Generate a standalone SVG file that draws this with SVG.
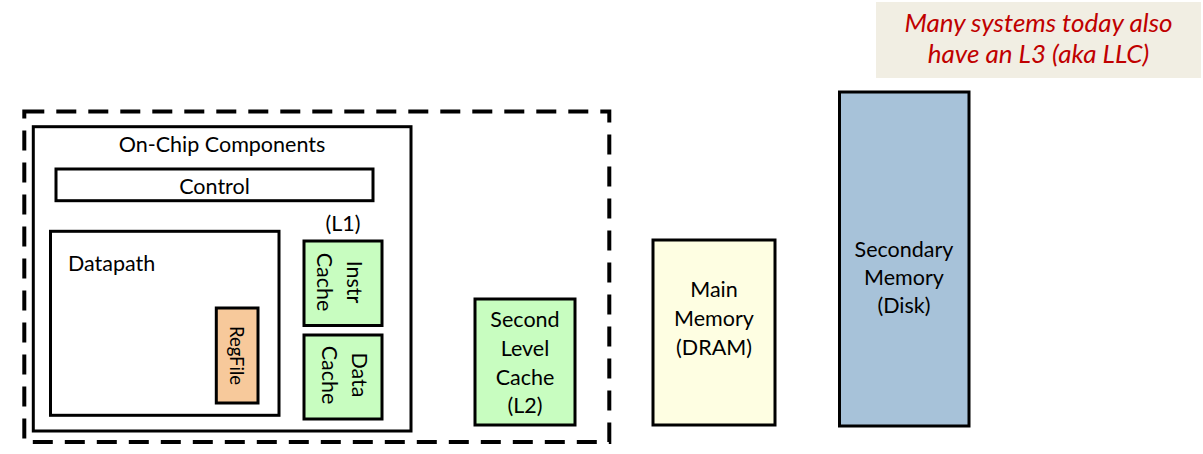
<svg xmlns="http://www.w3.org/2000/svg" width="1203" height="454" viewBox="0 0 1203 454">
<style>
  .box { stroke: #000; stroke-width: 3; }
  .t { font-family: Lato, "Liberation Sans", sans-serif; font-size: 21.5px; fill: #000; }
  .c { text-anchor: middle; }
  .note { font-family: Lato, "Liberation Sans", sans-serif; font-size: 26px; font-style: italic; fill: #C00000; text-anchor: middle; }
</style>
<rect width="1203" height="454" fill="#fff"/>
<g id="note">
  <rect x="876" y="2" width="325" height="76" fill="#F1EEE3"/>
  <text class="note" x="1038.5" y="32">Many systems today also</text>
  <text class="note" x="1038.5" y="63">have an L3 (aka LLC)</text>
</g>
<g id="chip-boundary">
  <rect x="24.3" y="111.5" width="585" height="330.5" fill="none" stroke="#000" stroke-width="4" stroke-dasharray="20 12"/>
</g>
<g id="on-chip">
  <rect class="box" x="33.3" y="126.7" width="377.7" height="304.3" fill="#fff"/>
  <text class="t c" x="222" y="152">On-Chip Components</text>
</g>
<g id="control">
  <rect class="box" x="56" y="169" width="317" height="31.7" fill="#fff"/>
  <text class="t c" x="214.5" y="194">Control</text>
</g>
<g id="datapath">
  <rect class="box" x="50.5" y="231.3" width="228.5" height="184" fill="#fff"/>
  <text class="t" x="68" y="271">Datapath</text>
</g>
<g id="regfile">
  <rect class="box" x="216.3" y="308" width="41.7" height="95" fill="#F7C99B"/>
  <text class="t c" style="font-size:18.5px" transform="translate(237,355.5) rotate(90)" x="0" y="7">RegFile</text>
</g>
<g id="l1-label">
  <text class="t c" x="343" y="231">(L1)</text>
</g>
<g id="instr-cache">
  <rect class="box" x="304" y="241" width="78" height="84.5" fill="#C8FDC0"/>
  <text class="t c" transform="translate(343,282) rotate(90)"><tspan x="0" y="-4">Instr</tspan><tspan x="0" y="26">Cache</tspan></text>
</g>
<g id="data-cache">
  <rect class="box" x="304" y="335" width="78" height="84" fill="#C8FDC0"/>
  <text class="t c" transform="translate(343,375) rotate(90)"><tspan x="0" y="-9">Data</tspan><tspan x="0" y="21">Cache</tspan></text>
</g>
<g id="l2-cache">
  <rect class="box" x="475" y="299" width="100" height="126" fill="#C8FDC0"/>
  <text class="t c"><tspan x="525" y="327">Second</tspan><tspan x="525" y="356">Level</tspan><tspan x="525" y="385">Cache</tspan><tspan x="525" y="413">(L2)</tspan></text>
</g>
<g id="main-memory">
  <rect class="box" x="653" y="240" width="122" height="185" fill="#FEFEE2"/>
  <text class="t c"><tspan x="714" y="297">Main</tspan><tspan x="714" y="326">Memory</tspan><tspan x="714" y="355">(DRAM)</tspan></text>
</g>
<g id="secondary-memory">
  <rect class="box" x="839.5" y="92" width="129.5" height="334" fill="#A7C2D9"/>
  <text class="t c"><tspan x="904" y="257">Secondary</tspan><tspan x="904" y="285">Memory</tspan><tspan x="904" y="313">(Disk)</tspan></text>
</g>
<g id="connectors"></g>
</svg>
